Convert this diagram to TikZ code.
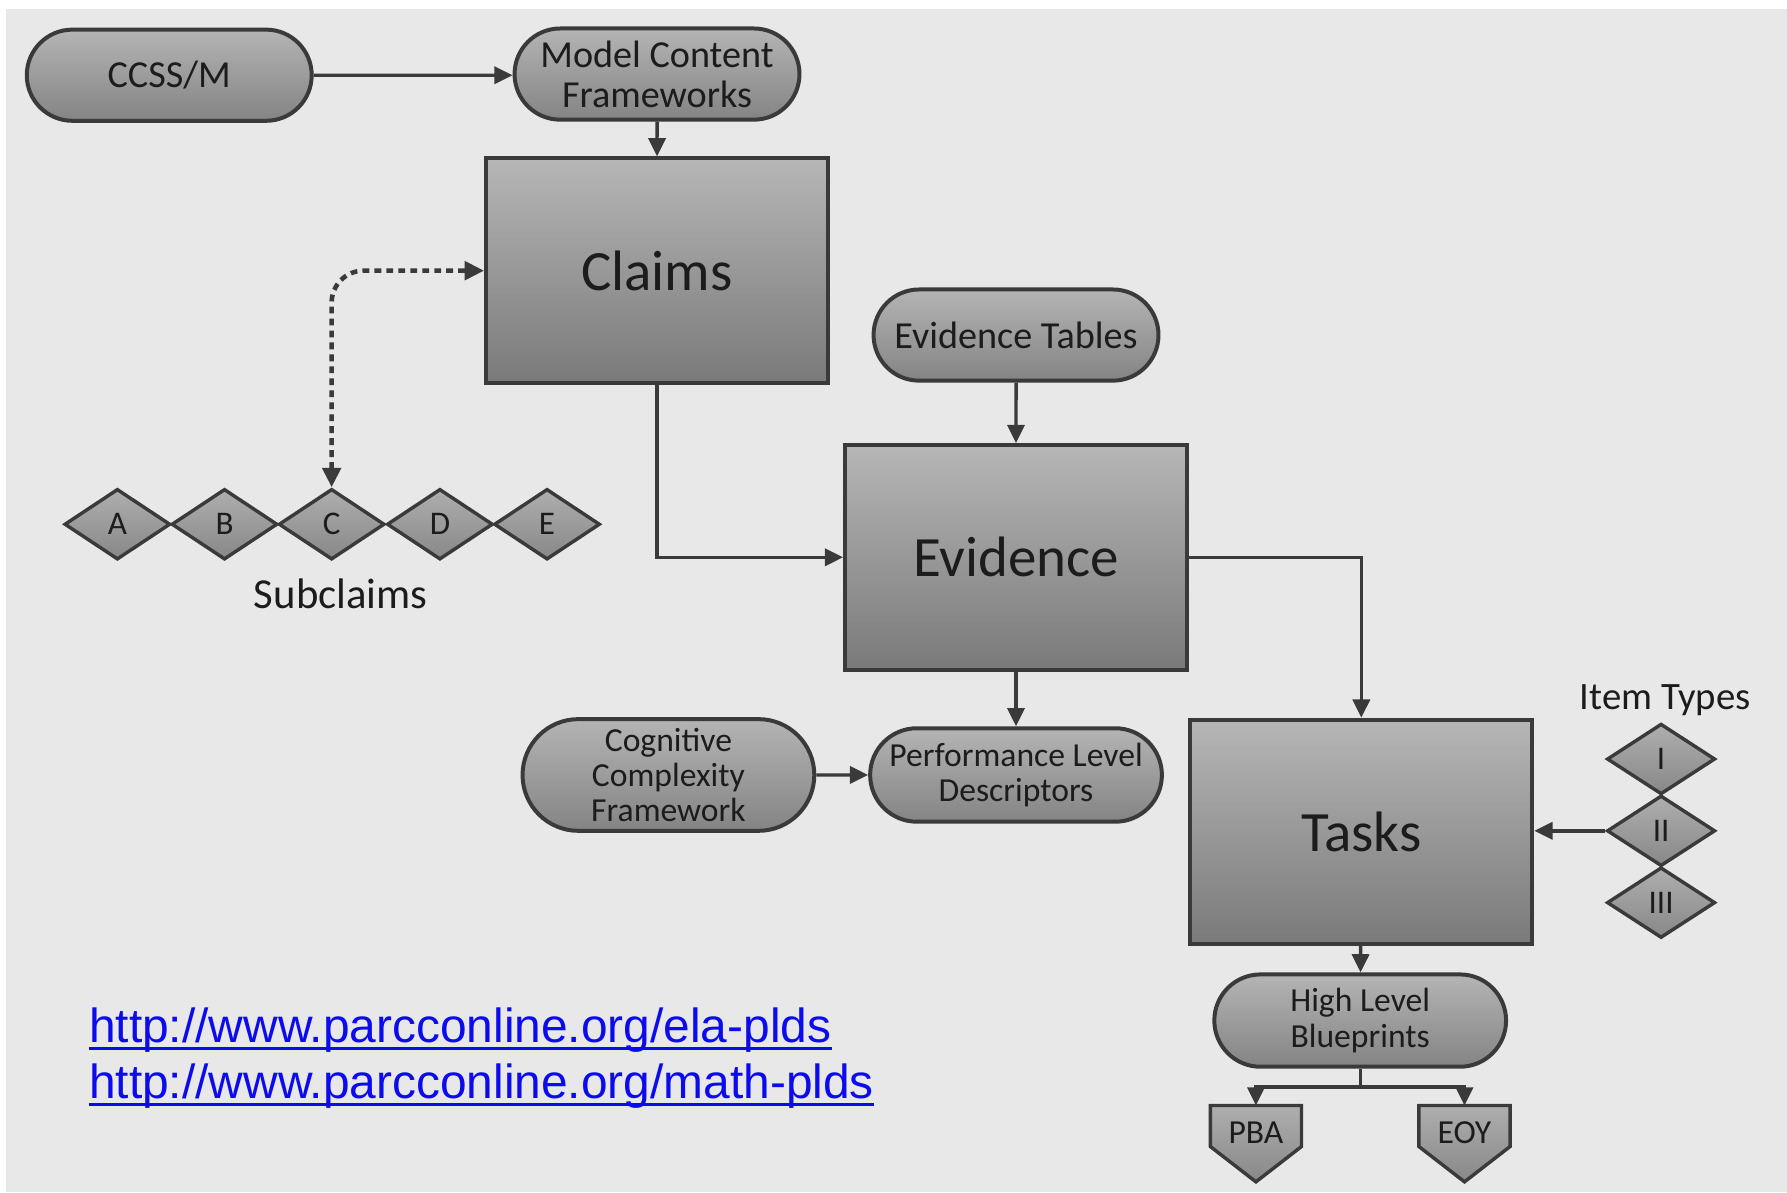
\documentclass[tikz,border=0pt]{standalone}
\usepackage{fontspec}
\setmainfont{Carlito}
\newfontfamily\urlfont{Liberation Sans}
\usetikzlibrary{arrows.meta,shapes.geometric,shapes.misc,calc}
\definecolor{bgc}{HTML}{E8E8E8}
\definecolor{edgec}{HTML}{3A3A3A}
\definecolor{txtc}{HTML}{1C1C1C}
\definecolor{boxtop}{HTML}{B6B6B6}
\definecolor{boxbot}{HTML}{7A7A7A}
\definecolor{sttop}{HTML}{B4B4B4}
\definecolor{stbot}{HTML}{848484}
\definecolor{dtop}{HTML}{AEAEAE}
\definecolor{dbot}{HTML}{888888}
\definecolor{linkblue}{HTML}{0B0BEE}
\tikzset{
  stadium/.style={rounded rectangle, draw=edgec, line width=3.5pt, top color=sttop, bottom color=stbot,
    minimum width=250pt, minimum height=80pt, inner sep=0pt, align=center, text=txtc,
    font=\fontsize{33.5}{35}\selectfont},
  smallstadium/.style={stadium, font=\fontsize{29.5}{31}\selectfont},
  bigbox/.style={rectangle, draw=edgec, line width=3.5pt, top color=boxtop, bottom color=boxbot,
    minimum width=300pt, minimum height=197pt, text=txtc, font=\fontsize{50}{60}\selectfont},
  dia/.style={diamond, draw=edgec, line width=3pt, top color=dtop, bottom color=dbot,
    minimum width=93pt, minimum height=62pt, inner sep=0pt, text=txtc, font=\fontsize{29}{32}\selectfont},
  pent/.style={draw=edgec, line width=3pt, top color=dtop, bottom color=dbot},
  lbl/.style={text=txtc, inner sep=0pt},
  arr/.style={draw=edgec, line width=3pt, -{Triangle[length=16pt,width=15pt]}},
  dasharr/.style={draw=edgec, line width=4pt, dash pattern=on 6pt off 4.5pt, rounded corners=28pt,
    {Triangle[length=17pt,width=16pt]}-{Triangle[length=17pt,width=16pt]}},
  urltext/.style={text=linkblue, inner sep=0pt, anchor=base west, font=\urlfont\fontsize{42}{48}\selectfont}
}
\begin{document}
\begin{tikzpicture}[x=1pt,y=-1pt]
\useasboundingbox (0,0) rectangle (1568,1046);
\fill[white] (0,0) rectangle (1568,1046);
\fill[bgc] (5,8) rectangle (1568,1046);

% top row
\node[stadium] (ccss) at (148.5,66) {CCSS/M};
\node[stadium] (mcf) at (576.5,65) {Model Content\\Frameworks};
\node[bigbox] (claims) at (576.5,237.5) {Claims};

% subclaims
\node[dia] (A) at (103,460) {A};
\node[dia] (B) at (197,460) {B};
\node[dia] (C) at (291,460) {C};
\node[dia] (D) at (386,460) {D};
\node[dia] (E) at (480,460) {E};
\node[lbl, font=\fontsize{37.5}{42}\selectfont] (sub) at (299,521) {Subclaims};

% evidence
\node[stadium] (et) at (891.5,294) {Evidence Tables};
\node[bigbox] (evidence) at (891.5,489) {Evidence};
\node[smallstadium, minimum width=256pt, minimum height=82pt] (pld) at (891.5,680) {Performance Level\\Descriptors};
\node[smallstadium, minimum width=256pt, minimum height=98pt] (ccf) at (586.5,680) {Cognitive\\Complexity\\Framework};

% tasks
\node[bigbox] (tasks) at (1194.5,730) {Tasks};
\node[lbl, font=\fontsize{34}{38}\selectfont] (it) at (1461,614) {Item Types};
\node[dia, minimum width=95pt] (i1) at (1457.5,666) {I};
\node[dia, minimum width=95pt] (i2) at (1457.5,729) {II};
\node[dia, minimum width=95pt] (i3) at (1457.5,792) {III};
\node[smallstadium, minimum width=256pt, minimum height=81pt] (hlb) at (1193.5,895.5) {High Level\\Blueprints};

% PBA / EOY
\coordinate (pbatop) at (1102,970);
\coordinate (eoytop) at (1285,970);
\path[pent] ($(pbatop)+(-40,0)$) -- ($(pbatop)+(40,0)$) -- ($(pbatop)+(40,36)$) -- ($(pbatop)+(0,67)$) -- ($(pbatop)+(-40,36)$) -- cycle;
\path[pent] ($(eoytop)+(-40,0)$) -- ($(eoytop)+(40,0)$) -- ($(eoytop)+(40,36)$) -- ($(eoytop)+(0,67)$) -- ($(eoytop)+(-40,36)$) -- cycle;
\node[lbl, font=\fontsize{29.5}{32}\selectfont] (pba) at ($(pbatop)+(0,24)$) {PBA};
\node[lbl, font=\fontsize{29.5}{32}\selectfont] (eoy) at ($(eoytop)+(0,24)$) {EOY};

% connectors
\draw[arr] (ccss) -- (ccss -| mcf.west);
\draw[arr] (mcf) -- (claims);
\draw[dasharr] (C.north) |- (claims.west);
\draw[arr] (claims.south) |- (evidence.west);
\draw[arr] (et) -- (evidence);
\draw[arr] (evidence.east) -| (tasks.north);
\draw[arr] (evidence) -- (pld);
\draw[arr] (ccf) -- (pld);
\draw[arr] (i2.west) -- (i2.west -| tasks.east);
\draw[arr] (tasks) -- (hlb);
\coordinate (junc) at ($(hlb.south)+(0,16)$);
\draw[draw=edgec, line width=3pt] (hlb.south) -- (junc);
\draw[arr] (junc) -| (pbatop);
\draw[arr] (junc) -| (eoytop);

% urls
\node[urltext] (u1) at (78,915) {http://www.parcconline.org/ela-plds};
\node[urltext] (u2) at (78,964) {http://www.parcconline.org/math-plds};
\draw[linkblue, line width=3pt] ($(u1.base west)+(0,5)$) -- ($(u1.base east)+(0,5)$);
\draw[linkblue, line width=3pt] ($(u2.base west)+(0,5)$) -- ($(u2.base east)+(0,5)$);
\end{tikzpicture}
\end{document}
